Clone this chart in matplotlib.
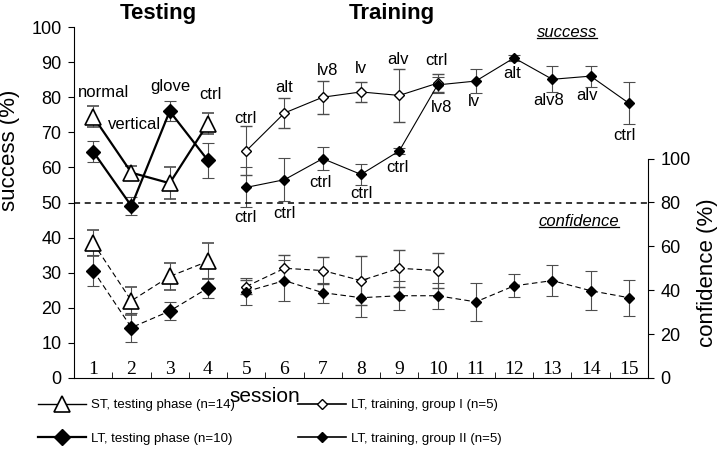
import matplotlib
matplotlib.use("Agg")
import matplotlib.pyplot as plt
from matplotlib.lines import Line2D
import numpy as np

plt.rcParams["font.family"] = ["Liberation Sans", "DejaVu Sans"]
SERIF = ["Liberation Serif", "DejaVu Serif"]

sessions = list(range(1, 16))
test_sessions = [1, 2, 3, 4]
g1_sessions = [5, 6, 7, 8, 9, 10]
g2_sessions = list(range(5, 16))

# success (%), left axis
st_success = [74.5, 58.5, 55.5, 72.5]
st_success_err = [3, 2, 4.5, 3]
lt_success = [64.5, 49, 76, 62]
lt_success_err = [3, 2.5, 2.8, 5]
g1_success = [64.7, 75.5, 80, 81.5, 80.5, 84]
g1_success_err = [7, 4.2, 4.7, 2.8, 7.5, 2.5]
g2_success = [54.3, 56.5, 62.5, 58, 64.7, 83.5, 84.6, 91.2, 85.1, 86, 78.3]
g2_success_err = [5.7, 6.2, 3.2, 3, 0.8, 2.2, 3.5, 0.9, 3.7, 3, 6]

# confidence (%), right axis
st_conf = [61.6, 35.2, 46.3, 53.2]
st_conf_err = [6, 6.3, 6, 8.2]
lt_conf = [49, 23, 30.5, 41]
lt_conf_err = [7.2, 6.5, 4, 4.5]
g1_conf = [41.7, 50, 49, 44.4, 50, 49]
g1_conf_err = [3.2, 6, 6, 11, 8.5, 8.2]
g2_conf = [39.4, 44.4, 38.9, 36.6, 37.5, 37.5, 34.7, 42, 44.4, 39.8, 36.6]
g2_conf_err = [6, 9.4, 4.5, 8.6, 6.5, 6, 8.8, 5.2, 7.2, 9, 8.2]

# condition labels
test_labels = ["normal", "vertical", "glove", "ctrl"]
g1_labels = ["ctrl", "alt", "lv8", "lv", "alv", "ctrl"]
g2_labels = ["ctrl", "ctrl", "ctrl", "ctrl", "ctrl", "lv8", "lv", "alt", "alv8", "alv", "ctrl"]

# label offsets in points
test_offs = [(7.5, 17), (2, 34.5), (0.5, 17.5), (1.5, 21)]
g1_offs = [(-0.5, 23), (0, 18), (3.6, 19), (0, 17), (-1, 26), (-1, 16)]
g2_offs = [(-0.7, -22), (0, -24), (-1.4, -17), (0, -13.4), (-1, -11.6), (3, -16),
           (-1.5, -15), (-1.5, -11), (-2.5, -15), (-2.7, -13.6), (-3, -23)]

fig = plt.figure(figsize=(7.2, 4.59), dpi=100)
ax = fig.add_axes([74 / 720, 81 / 459, 574 / 720, 351 / 459])
ax2 = ax.twinx()

eb = dict(ecolor="0.3", elinewidth=0.8, capsize=4, capthick=0.8)

# success
ax.errorbar(test_sessions, st_success, yerr=st_success_err, color="k", lw=1.6,
            marker="^", ms=11, mfc="white", mec="k", mew=1.2, **eb)
ax.errorbar(test_sessions, lt_success, yerr=lt_success_err, color="k", lw=1.6,
            marker="D", ms=7.5, mfc="k", mec="k", **eb)
ax.errorbar(g1_sessions, g1_success, yerr=g1_success_err, color="k", lw=0.8,
            marker="D", ms=5, mfc="white", mec="k", mew=1, **eb)
ax.errorbar(g2_sessions, g2_success, yerr=g2_success_err, color="k", lw=0.8,
            marker="D", ms=5, mfc="k", mec="k", **eb)

# confidence
dash = (0, (5, 3))
ax2.errorbar(test_sessions, st_conf, yerr=st_conf_err, color="k", lw=0.8, ls=dash,
             marker="^", ms=11, mfc="white", mec="k", mew=1.2, **eb)
ax2.errorbar(test_sessions, lt_conf, yerr=lt_conf_err, color="k", lw=0.8, ls=dash,
             marker="D", ms=7.5, mfc="k", mec="k", **eb)
ax2.errorbar(g1_sessions, g1_conf, yerr=g1_conf_err, color="k", lw=0.8, ls=dash,
             marker="D", ms=5, mfc="white", mec="k", mew=1, **eb)
ax2.errorbar(g2_sessions, g2_conf, yerr=g2_conf_err, color="k", lw=0.8, ls=dash,
             marker="D", ms=5, mfc="k", mec="k", **eb)

ax.axhline(50, color="k", lw=1.1, ls=(0, (4, 3)))

# condition labels
test_top = np.maximum(st_success, lt_success)
for s, v, t, o in zip(test_sessions, test_top, test_labels, test_offs):
    ax.annotate(t, (s, v), xytext=o, textcoords="offset points", ha="center", va="center", fontsize=12)
for s, v, t, o in zip(g1_sessions, g1_success, g1_labels, g1_offs):
    ax.annotate(t, (s, v), xytext=o, textcoords="offset points", ha="center", va="center", fontsize=12)
for s, v, t, o in zip(g2_sessions, g2_success, g2_labels, g2_offs):
    ax.annotate(t, (s, v), xytext=o, textcoords="offset points", ha="center", va="center", fontsize=12)

# axes styling
ax.set_xlim(0.5, 15.5)
ax.set_ylim(0, 100)
ax2.set_ylim(0, 160)
ax.spines["top"].set_visible(False)
ax.spines["right"].set_visible(False)
for side in ["top", "left", "bottom"]:
    ax2.spines[side].set_visible(False)
ax2.spines["right"].set_bounds(0, 100)

ax.set_yticks(np.arange(0, 101, 10))
ax.tick_params(axis="y", direction="out", length=4, labelsize=13, pad=5)
ax2.set_yticks(np.arange(0, 101, 20))
ax2.tick_params(axis="y", direction="out", length=4, labelsize=13, pad=5)

ax.set_xticks(sessions)
ax.set_xticklabels([str(s) for s in sessions], family=SERIF, fontsize=14)
ax.set_xticks(np.arange(1.5, 15, 1), minor=True)
ax.tick_params(axis="x", which="major", length=0, pad=-12)
ax.tick_params(axis="x", which="minor", direction="in", length=4)

ax.set_ylabel("success (%)", fontsize=16)
ax.yaxis.set_label_coords(-0.094, 0.65)
ax2.set_ylabel("confidence (%)", fontsize=16)
ax2.yaxis.set_label_coords(1.085, 0.3)
ax.set_xlabel("session", fontsize=15)
ax.xaxis.set_label_coords(0.333, -0.025)

fig.text(158 / 720, 1 - 13 / 459, "Testing", fontsize=16, fontweight="bold", ha="center", va="center")
fig.text(392 / 720, 1 - 13 / 459, "Training", fontsize=16, fontweight="bold", ha="center", va="center")

t1 = ax.text(0.859, 0.983, "success", transform=ax.transAxes, style="italic",
             fontsize=12, ha="center", va="center")
t2 = ax.text(0.88, 0.447, "confidence", transform=ax.transAxes, style="italic",
             fontsize=12, ha="center", va="center")

# legend
h_st = Line2D([], [], color="k", lw=1, marker="^", ms=12, mfc="white", mec="k", mew=1.2)
h_lt = Line2D([], [], color="k", lw=1.6, marker="D", ms=8, mfc="k", mec="k")
h_g1 = Line2D([], [], color="k", lw=1.2, marker="D", ms=5, mfc="white", mec="k")
h_g2 = Line2D([], [], color="k", lw=1.2, marker="D", ms=5, mfc="k", mec="k")
leg_kw = dict(loc="upper left", frameon=False, borderpad=0, borderaxespad=0,
              handlelength=3.6, handletextpad=0.4, labelspacing=1.6,
              prop={"size": 9.5})
fig.legend([h_st, h_lt], ["ST, testing phase (n=14)", "LT, testing phase (n=10)"],
           bbox_to_anchor=(38 / 720, 1 - 399 / 459), **leg_kw)
fig.legend([h_g1, h_g2], ["LT, training, group I (n=5)", "LT, training, group II (n=5)"],
           bbox_to_anchor=(298 / 720, 1 - 399 / 459), **leg_kw)

# underline the italic section labels
fig.canvas.draw()
inv = fig.transFigure.inverted()
for t in (t1, t2):
    bb = t.get_window_extent()
    (x0, y0), (x1, _) = inv.transform([(bb.x0, bb.y0 + 2), (bb.x1, bb.y0 + 2)])
    fig.add_artist(Line2D([x0, x1], [y0, y0], color="k", lw=0.9, transform=fig.transFigure))

fig.savefig("out.png", dpi=100)
